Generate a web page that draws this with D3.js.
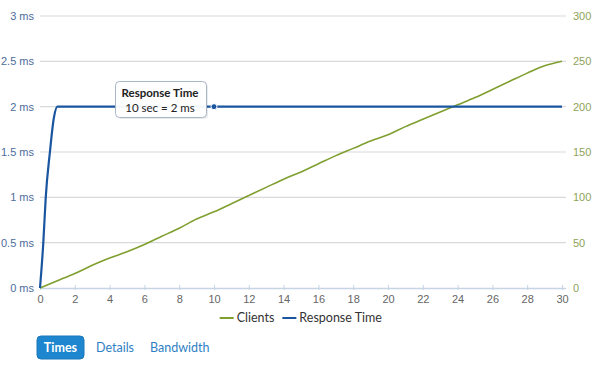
<!DOCTYPE html>
<html><head><meta charset="utf-8">
<script src="https://cdn.jsdelivr.net/npm/d3@7/dist/d3.min.js"></script>
<style>
body{margin:0;background:#fff;}
svg{font-family:Lato,"Open Sans",sans-serif;}
</style></head>
<body><svg id="c" width="600" height="377"></svg>
<script>
const seconds = [0,1,2,3,4,5,6,7,8,9,10,11,12,13,14,15,16,17,18,19,20,21,22,23,24,25,26,27,28,29,30];
const clients = [0,8,16,25,33,40,48,57,66,76,84,93,102,111,120,128,137,146,154,162,169,178,186,194,202,210,219,228,237,245,250];
const rtTimes = [0,0.19,0.33,0.57,0.8,1,2,3,4,5,6,7,8,9,10,11,12,13,14,15,16,17,18,19,20,21,22,23,24,25,26,27,28,29,30];
const rtValues = [0,0.5,1,1.5,1.88,2,2,2,2,2,2,2,2,2,2,2,2,2,2,2,2,2,2,2,2,2,2,2,2,2,2,2,2,2,2];
const xTicks = [0,2,4,6,8,10,12,14,16,18,20,22,24,26,28,30];
const leftTicks = [0,0.5,1,1.5,2,2.5,3];
const rightTicks = [0,50,100,150,200,250,300];
const legendItems = ["Clients","Response Time"];
const buttons = ["Times","Details","Bandwidth"];
const tooltipTitle = "Response Time";
const tooltipText = "10 sec = 2 ms";
const tooltipAt = 10;

const svg = d3.select("#c");
const x = d3.scaleLinear().domain([0,30]).range([40,562]);
const yL = d3.scaleLinear().domain([0,3]).range([288,16]);
const yR = d3.scaleLinear().domain([0,300]).range([288,16]);
const green = "#7f9f2f", blue = "#1a56a0";

// grid
svg.append("g").selectAll("line").data(leftTicks.slice(1)).join("line")
  .attr("x1",40).attr("x2",566).attr("y1",d=>yL(d)).attr("y2",d=>yL(d))
  .attr("stroke","#d9d9d9").attr("stroke-width",1.2);

// x axis
const xa = svg.append("g").attr("transform","translate(0,288)")
  .call(d3.axisBottom(x).tickValues(xTicks).tickSize(4).tickPadding(3));
xa.select(".domain").attr("d","M40,0.5H566").attr("stroke","#c6d4e3").attr("stroke-width",1.5);
xa.selectAll(".tick line").attr("stroke","#c6d4e3").attr("y1",-3).attr("y2",2);
xa.selectAll("text").attr("fill","#666").attr("font-size",11);

// left axis
const la = svg.append("g").attr("transform","translate(40,0)")
  .call(d3.axisLeft(yL).tickValues(leftTicks).tickSize(0).tickPadding(6).tickFormat(d=>d+" ms"));
la.select(".domain").remove();
la.selectAll("text").attr("fill","#4d6c9c").attr("font-size",11);

// right axis
const ra = svg.append("g").attr("transform","translate(566,0)")
  .call(d3.axisRight(yR).tickValues(rightTicks).tickSize(0).tickPadding(7));
ra.select(".domain").remove();
ra.selectAll("text").attr("fill","#8ea35a").attr("font-size",11);

// lines
const lineC = d3.line().x((d,i)=>x(seconds[i])).y(d=>yR(d)).curve(d3.curveMonotoneX);
svg.append("path").datum(clients).attr("d",lineC).attr("fill","none")
  .attr("stroke",green).attr("stroke-width",1.6);
const lineR = d3.line().x((d,i)=>x(rtTimes[i])).y(d=>yL(d)).curve(d3.curveMonotoneX);
svg.append("path").datum(rtValues).attr("d",lineR).attr("fill","none")
  .attr("stroke",blue).attr("stroke-width",2.2);

// hover marker
const mi = rtTimes.indexOf(tooltipAt);
svg.append("circle").attr("cx",x(tooltipAt)).attr("cy",yL(rtValues[mi])).attr("r",3)
  .attr("fill",blue).attr("stroke","#fff").attr("stroke-width",1);

// tooltip
const tg = svg.append("g");
tg.append("rect").attr("x",117).attr("y",83).attr("width",91).attr("height",36).attr("rx",4)
  .attr("fill","rgba(0,0,0,0.08)");
tg.append("rect").attr("x",115.5).attr("y",81.5).attr("width",91).attr("height",36).attr("rx",4)
  .attr("fill","#fff").attr("fill-opacity",0.95).attr("stroke","#a8b6c8").attr("stroke-width",1);
tg.append("text").attr("x",160).attr("y",97).attr("text-anchor","middle")
  .attr("font-size",11.5).attr("font-weight","bold").attr("fill","#222").text(tooltipTitle);
tg.append("text").attr("x",160).attr("y",111.5).attr("text-anchor","middle")
  .attr("font-size",11.5).attr("fill","#222").text(tooltipText);

// legend
const lg = svg.append("g");
const legColors = [green, blue];
let lx = 229;
legendItems.forEach((t,i)=>{
  lg.append("line").attr("x1",lx).attr("x2",lx+14).attr("y1",318).attr("y2",318)
    .attr("stroke",legColors[i]).attr("stroke-width",2);
  const tx = lg.append("text").attr("x",lx+17).attr("y",322).attr("font-size",12.5)
    .attr("fill","#333").text(t);
  lx = lx + 17 + tx.node().getComputedTextLength() + 8;
});
const lb = lg.node().getBBox();
lg.attr("transform",`translate(${301 - (lb.x + lb.width/2)},0)`);

// buttons
const bg = svg.append("g");
bg.append("rect").attr("x",37).attr("y",336).attr("width",47).attr("height",23).attr("rx",4)
  .attr("fill","#1e86cf").attr("stroke","#1a76b8");
const bx = [60.5, 96, 150];
buttons.forEach((t,i)=>{
  bg.append("text").attr("x",bx[i]).attr("y",352).attr("font-size",12.5)
    .attr("text-anchor", i===0?"middle":"start")
    .attr("font-weight", i===0?"bold":"normal")
    .attr("fill", i===0?"#fff":"#2f7fc4").text(t);
});
</script></body></html>
